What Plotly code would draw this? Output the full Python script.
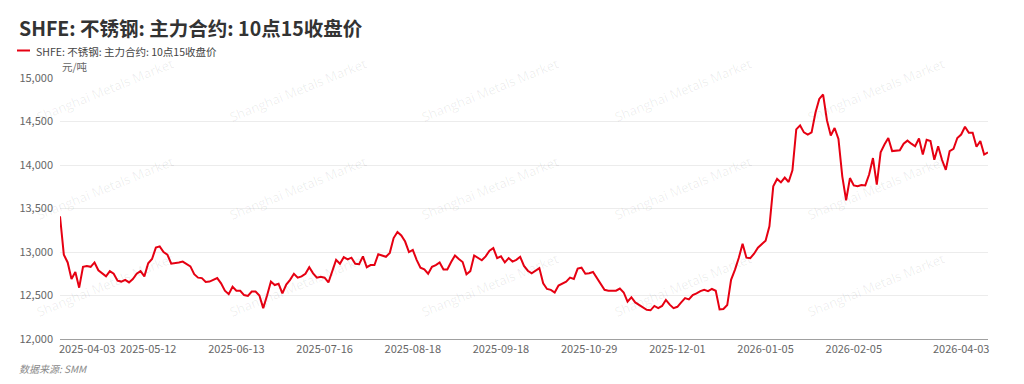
import pandas as pd
import plotly.graph_objects as go

TITLE = "SHFE: 不锈钢: 主力合约: 10点15收盘价"
SERIES_NAME = "SHFE: 不锈钢: 主力合约: 10点15收盘价"
UNIT = "元/吨"
SOURCE = "数据来源: SMM"

START_DATE = "2025-04-03"
END_DATE = "2026-04-03"
HOLIDAYS = ["2025-04-04", "2025-05-01", "2025-05-02", "2025-05-05", "2025-06-02",
            "2025-10-01", "2025-10-02", "2025-10-03", "2025-10-06", "2025-10-07", "2025-10-08",
            "2026-01-01", "2026-01-02",
            "2026-02-16", "2026-02-17", "2026-02-18", "2026-02-19", "2026-02-20", "2026-02-23"]

TICK_LABELS = ["2025-04-03", "2025-05-12", "2025-06-13", "2025-07-16", "2025-08-18",
               "2025-09-18", "2025-10-29", "2025-12-01", "2026-01-05", "2026-02-05", "2026-04-03"]

Y_TICKS = [12000, 12500, 13000, 13500, 14000, 14500, 15000]

PRICES = [
    13410, 12970, 12880, 12690, 12770, 12590, 12830, 12840, 12830, 12880,
    12790, 12760, 12720, 12780, 12750, 12670, 12660, 12680, 12650, 12690,
    12750, 12780, 12720, 12870, 12920, 13050, 13065, 13000, 12970, 12865,
    12870, 12880, 12890, 12860, 12835, 12745, 12705, 12700, 12655, 12660,
    12680, 12700, 12640, 12555, 12515, 12600, 12555, 12555, 12505, 12495,
    12545, 12545, 12500, 12355, 12500, 12660, 12620, 12635, 12525, 12625,
    12680, 12750, 12705, 12720, 12750, 12825, 12755, 12705, 12715, 12705,
    12650, 12780, 12910, 12865, 12940, 12915, 12935, 12865, 12860, 12950,
    12825, 12850, 12850, 12975, 12960, 12945, 12990, 13160, 13230, 13190,
    13120, 13000, 13025, 12910, 12820, 12800, 12750, 12830, 12850, 12880,
    12800, 12800, 12885, 12960, 12920, 12885, 12745, 12780, 12960, 12935,
    12905, 12950, 13015, 13045, 12930, 12950, 12880, 12930, 12890, 12910,
    12945, 12840, 12785, 12755, 12780, 12815, 12640, 12575, 12565, 12535,
    12615, 12635, 12660, 12705, 12690, 12810, 12820, 12750, 12755, 12770,
    12700, 12620, 12565, 12555, 12555, 12555, 12580, 12535, 12430, 12480,
    12420, 12390, 12360, 12335, 12330, 12380, 12355, 12380, 12450, 12395,
    12355, 12370, 12420, 12470, 12455, 12505, 12525, 12550, 12565, 12550,
    12575, 12555, 12340, 12345, 12390, 12680, 12795, 12930, 13095, 12935,
    12930, 12980, 13050, 13095, 13130, 13295, 13755, 13840, 13800, 13855,
    13805, 13940, 14410, 14455, 14375, 14350, 14375, 14600, 14760, 14810,
    14515, 14340, 14425, 14300, 13870, 13595, 13850, 13765, 13755, 13770,
    13765, 13890, 14080, 13775, 14145, 14235, 14310, 14160, 14165, 14170,
    14245, 14280, 14245, 14215, 14305, 14120, 14290, 14275, 14060, 14215,
    14060, 13945, 14160, 14185, 14310, 14350, 14440, 14370, 14370, 14210,
    14275, 14120, 14145,
]

dates = [d.strftime("%Y-%m-%d") for d in pd.bdate_range(START_DATE, END_DATE)
         if d.strftime("%Y-%m-%d") not in HOLIDAYS]
n = min(len(dates), len(PRICES))
dates = dates[:n]
PRICES = PRICES[:n]

W, H = 1024, 384
L, R, T, B = 60, 988, 78, 339


def px(x):
    return (x - L) / (R - L)


def py(y):
    return (B - y) / (B - T)


fig = go.Figure()
fig.add_trace(go.Scatter(
    x=dates, y=PRICES, mode="lines", name=SERIES_NAME,
    line=dict(color="#e60012", width=2), showlegend=False,
    hovertemplate="%{x}<br>%{y:,}<extra></extra>",
))

FONT = "Noto Sans CJK SC, Noto Sans, sans-serif"

annotations = []
# watermarks
for wx in [105, 298, 490, 683, 876]:
    for wy in [90, 188, 285]:
        annotations.append(dict(
            x=px(wx), y=py(wy), xref="paper", yref="paper", text="Shanghai Metals Market",
            showarrow=False, textangle=-22, font=dict(family="Open Sans, sans-serif", size=13,
                                                     color="rgba(0,0,0,0.075)"),
            xanchor="center", yanchor="middle"))

annotations += [
    dict(x=px(17), y=py(28), xref="paper", yref="paper", text="<b>" + TITLE + "</b>",
         showarrow=False, xanchor="left", yanchor="middle",
         font=dict(family=FONT, size=19.5, color="#333333")),
    dict(x=px(34), y=py(51), xref="paper", yref="paper", text=SERIES_NAME,
         showarrow=False, xanchor="left", yanchor="middle",
         font=dict(family=FONT, size=10.5, color="#444444")),
    dict(x=px(60), y=py(66), xref="paper", yref="paper", text=UNIT,
         showarrow=False, xanchor="left", yanchor="middle",
         font=dict(family=FONT, size=10.5, color="#666666")),
    dict(x=px(17), y=py(368), xref="paper", yref="paper", text="<i>" + SOURCE + "</i>",
         showarrow=False, xanchor="left", yanchor="middle",
         font=dict(family=FONT, size=10, color="#8a8a8a")),
    dict(x=dates[0], y=py(348), xref="x", yref="paper", text=TICK_LABELS[0],
         showarrow=False, xanchor="left", yanchor="middle", xshift=-3,
         font=dict(family=FONT, size=11, color="#666666")),
    dict(x=dates[-1], y=py(348), xref="x", yref="paper", text=TICK_LABELS[-1],
         showarrow=False, xanchor="right", yanchor="middle", xshift=3,
         font=dict(family=FONT, size=11, color="#666666")),
]

shapes = [dict(type="line", xref="paper", yref="paper", x0=px(17), x1=px(30),
               y0=py(50.5), y1=py(50.5), line=dict(color="#e60012", width=2))]

fig.update_layout(
    width=W, height=H,
    margin=dict(l=L, r=W - R, t=T, b=H - B, pad=0),
    paper_bgcolor="white", plot_bgcolor="white",
    font=dict(family=FONT, size=11, color="#666666"),
    annotations=annotations, shapes=shapes,
    xaxis=dict(type="category", range=[0, n - 1], tickmode="array",
               tickvals=TICK_LABELS[1:-1], ticktext=TICK_LABELS[1:-1],
               showgrid=False, showline=True, linecolor="#a0a0a0", linewidth=1,
               ticks="", tickfont=dict(size=11, color="#666666"), zeroline=False,
               fixedrange=True),
    yaxis=dict(range=[12000, 15000], tickmode="array", tickvals=Y_TICKS,
               tickformat=",", showgrid=True, gridcolor="#ececec", gridwidth=1,
               zeroline=False, showline=False, ticks="",
               tickfont=dict(size=11, color="#666666"), ticklabelstandoff=6,
               fixedrange=True),
    showlegend=False,
)

fig.write_html("out.html", config={"displayModeBar": False},
               post_script="document.body.style.margin='0';document.body.style.padding='0';")
